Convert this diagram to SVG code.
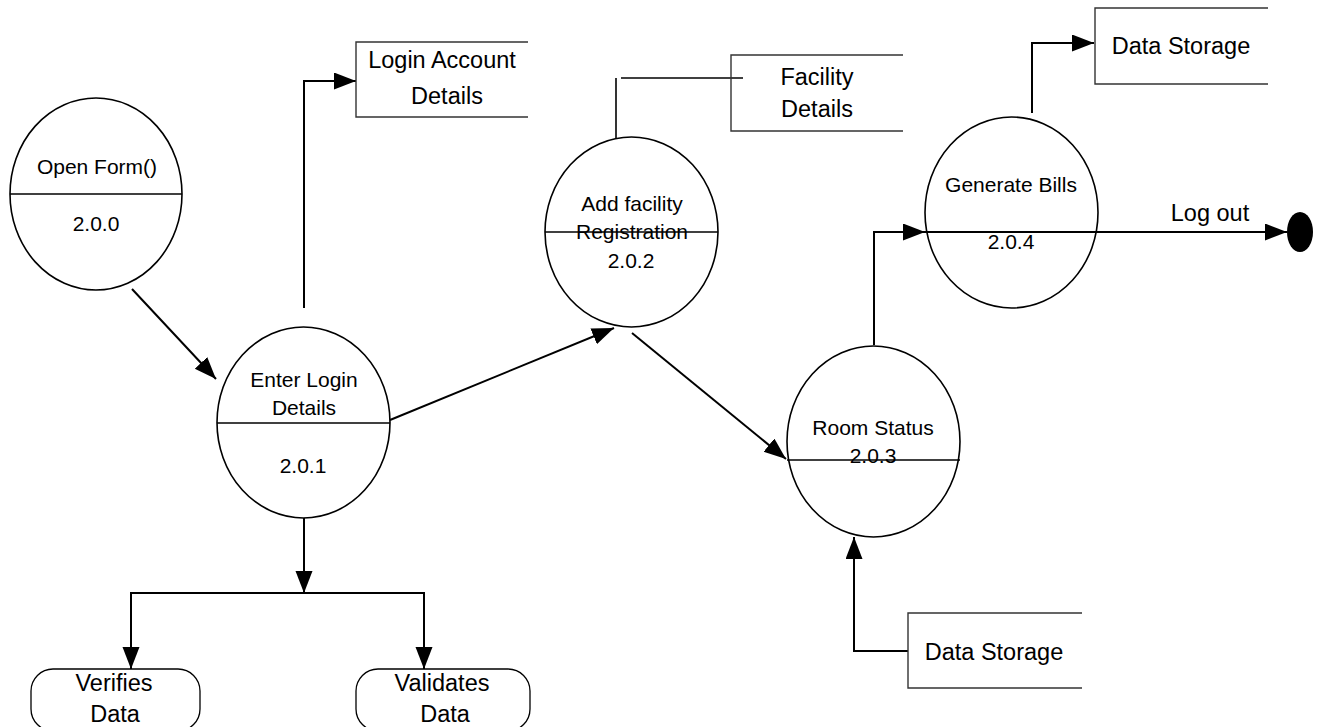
<svg xmlns="http://www.w3.org/2000/svg" width="1319" height="727" viewBox="0 0 1319 727">
<style>
.proc{fill:#fff;stroke:#000;stroke-width:1.6}
.div{stroke:#000;stroke-width:1.6}
.store{fill:none;stroke:#333;stroke-width:1.4}
.ext{fill:#fff;stroke:#000;stroke-width:1.3}
.c{fill:none;stroke:#000;stroke-width:2}
.t{font-family:"Liberation Sans",Arial,sans-serif;font-size:21px;fill:#000;text-anchor:middle}
.tb{font-family:"Liberation Sans",Arial,sans-serif;font-size:23.5px;fill:#000;text-anchor:middle}
</style>
<defs>
<marker id="ah" markerUnits="userSpaceOnUse" markerWidth="24" markerHeight="18" refX="22" refY="8.5" orient="auto">
<path d="M0,0 L22,8.5 L0,17 Z" fill="#000"/>
</marker>
</defs>
<rect width="1319" height="727" fill="#fff"/>
<g id="connectors">
<line class="c" x1="132" y1="289" x2="216" y2="379" marker-end="url(#ah)"/>
<polyline class="c" points="304,308 304,81 356,81" marker-end="url(#ah)"/>
<line class="c" x1="390" y1="420" x2="614" y2="328" marker-end="url(#ah)"/>
<line class="c" x1="616" y1="148" x2="616" y2="78" style="stroke-width:1.6"/>
<line class="c" x1="621" y1="78" x2="743" y2="78" style="stroke-width:1.4"/>
<line class="c" x1="632" y1="333" x2="786" y2="459" marker-end="url(#ah)"/>
<polyline class="c" points="874,345 874,232 925,232" marker-end="url(#ah)"/>
<line class="c" x1="925" y1="232" x2="1287" y2="232" marker-end="url(#ah)"/>
<polyline class="c" points="1032,113 1032,43 1094,43" marker-end="url(#ah)"/>
<polyline class="c" points="908,651 854,651 854,537" marker-end="url(#ah)"/>
<line class="c" x1="304" y1="518" x2="304" y2="593" marker-end="url(#ah)"/>
<polyline class="c" points="131,640 131,593 424,593 424,669" marker-end="url(#ah)"/>
<line class="c" x1="131" y1="640" x2="131" y2="669" marker-end="url(#ah)"/>
<text class="t" x="1210" y="221" style="font-size:23.5px">Log out</text>
</g>
<g id="p200">
<ellipse class="proc" cx="96" cy="194" rx="86" ry="96"/>
<line class="div" x1="10" y1="194" x2="182" y2="194"/>
<text class="t" x="97" y="174">Open Form()</text>
<text class="t" x="96" y="231">2.0.0</text>
</g>
<g id="p201">
<ellipse class="proc" cx="303.5" cy="422.5" rx="86.5" ry="95.5"/>
<line class="div" x1="217" y1="423" x2="390" y2="423"/>
<text class="t" x="304" y="387">Enter Login</text>
<text class="t" x="304" y="415">Details</text>
<text class="t" x="303" y="473">2.0.1</text>
</g>
<g id="p202">
<ellipse class="proc" cx="631.5" cy="232" rx="86.5" ry="95"/>
<text class="t" x="632" y="211">Add facility</text>
<text class="t" x="632" y="239">Registration</text>
<line class="div" x1="545" y1="232" x2="718" y2="232"/>
<text class="t" x="631" y="268">2.0.2</text>
</g>
<g id="p203">
<ellipse class="proc" cx="873.5" cy="441.5" rx="86.5" ry="95.5"/>
<text class="t" x="873" y="435">Room Status</text>
<text class="t" x="873" y="463">2.0.3</text>
<line class="div" x1="787" y1="460" x2="960" y2="460"/>
</g>
<g id="p204">
<ellipse class="proc" cx="1011.5" cy="212.5" rx="86.5" ry="95.5" style="fill:none"/>
<text class="t" x="1011" y="192">Generate Bills</text>
<text class="t" x="1011" y="249">2.0.4</text>
</g>
<g id="end">
<ellipse cx="1300" cy="232" rx="13" ry="20" fill="#000"/>
</g>
<g id="s_login">
<polyline class="store" points="528,42 356,42 356,117 528,117"/>
<text class="tb" x="442" y="68">Login Account</text>
<text class="tb" x="447" y="104">Details</text>
</g>
<g id="s_facility">
<polyline class="store" points="903,55 731,55 731,131 903,131"/>
<text class="tb" x="817" y="85">Facility</text>
<text class="tb" x="817" y="117">Details</text>
</g>
<g id="s_data1">
<polyline class="store" points="1268,8 1095,8 1095,84 1268,84"/>
<text class="tb" x="1181" y="54">Data Storage</text>
</g>
<g id="s_data2">
<polyline class="store" points="1082,613 908,613 908,688 1082,688"/>
<text class="tb" x="994" y="660">Data Storage</text>
</g>
<g id="e_verifies">
<rect class="ext" x="31" y="669" width="169" height="62" rx="22" ry="22"/>
<text class="tb" x="114" y="691">Verifies</text>
<text class="tb" x="115" y="722">Data</text>
</g>
<g id="e_validates">
<rect class="ext" x="356" y="669" width="174" height="62" rx="22" ry="22"/>
<text class="tb" x="442" y="691">Validates</text>
<text class="tb" x="445" y="722">Data</text>
</g>
</svg>
